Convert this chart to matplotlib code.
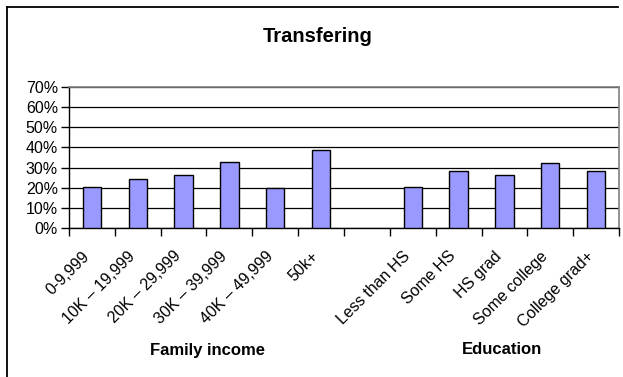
import matplotlib
matplotlib.use("Agg")
import matplotlib.pyplot as plt
from matplotlib.lines import Line2D
from matplotlib.ticker import FuncFormatter, MultipleLocator, FixedLocator
import numpy as np

plt.rcParams['font.family'] = ['Liberation Sans', 'DejaVu Sans']

title = "Transfering"
income_labels = ["0-9,999", "10K \u2013 19,999", "20K \u2013 29,999",
                 "30K \u2013 39,999", "40K \u2013 49,999", "50k+"]
income_values = [0.205, 0.245, 0.263, 0.329, 0.200, 0.386]
education_labels = ["Less than HS", "Some HS", "HS grad", "Some college",
                    "College grad+"]
education_values = [0.205, 0.283, 0.263, 0.323, 0.283]
group_titles = ["Family income", "Education"]

labels = income_labels + [""] + education_labels
values = income_values + [np.nan] + education_values

W, H = 623, 377
fig = plt.figure(figsize=(W / 100, H / 100), dpi=100)

# outer chart frame
fig.add_artist(Line2D([7 / W, 618 / W], [1 - 7 / H, 1 - 7 / H],
                      transform=fig.transFigure, color="black", lw=1.3))
fig.add_artist(Line2D([7 / W, 7 / W], [1 - 7 / H, -0.01],
                      transform=fig.transFigure, color="black", lw=1.3))

ax = fig.add_axes([69 / W, 1 - 228 / H, (619 - 69) / W, (228 - 87) / H])
x = np.arange(len(labels))
ax.bar(x, values, width=0.4, color="#9999FF", edgecolor="black",
       linewidth=1.0, zorder=3)

ax.set_xlim(-0.5, len(labels) - 0.5)
ax.set_ylim(0, 0.7)
ax.yaxis.set_major_locator(MultipleLocator(0.1))
ax.yaxis.set_major_formatter(FuncFormatter(lambda v, p: f"{v * 100:.0f}%"))
ax.grid(axis="y", color="black", lw=0.9, zorder=1)
ax.set_axisbelow(True)

for side in ("top", "right"):
    ax.spines[side].set_color("#808080")
    ax.spines[side].set_linewidth(1.2)
for side in ("left", "bottom"):
    ax.spines[side].set_color("black")
    ax.spines[side].set_linewidth(1.0)

ax.xaxis.set_major_locator(FixedLocator(np.arange(len(labels) + 1) - 0.5))
ax.xaxis.set_major_formatter(FuncFormatter(lambda v, p: ""))
ax.tick_params(axis="x", direction="out", length=6, width=1, color="black")
ax.tick_params(axis="y", direction="out", length=6, width=1, color="black",
               labelsize=11.5, pad=2)

for xi, lab in zip(x, labels):
    if lab:
        ax.annotate(lab, xy=(xi, 0), xycoords=("data", "axes fraction"),
                    xytext=(-3.5, -18.5), textcoords="offset points",
                    rotation=45, rotation_mode="anchor",
                    ha="right", va="center", fontsize=11.5)

fig.text(318 / W, 1 - 37 / H, title, ha="center", va="center",
         fontsize=14.5, fontweight="bold")
fig.text(207 / W, 1 - 350 / H, group_titles[0], ha="center", va="center",
         fontsize=12, fontweight="bold")
fig.text(502 / W, 1 - 350 / H, group_titles[1], ha="center", va="center",
         fontsize=12, fontweight="bold")

fig.savefig("out.png", dpi=100)
